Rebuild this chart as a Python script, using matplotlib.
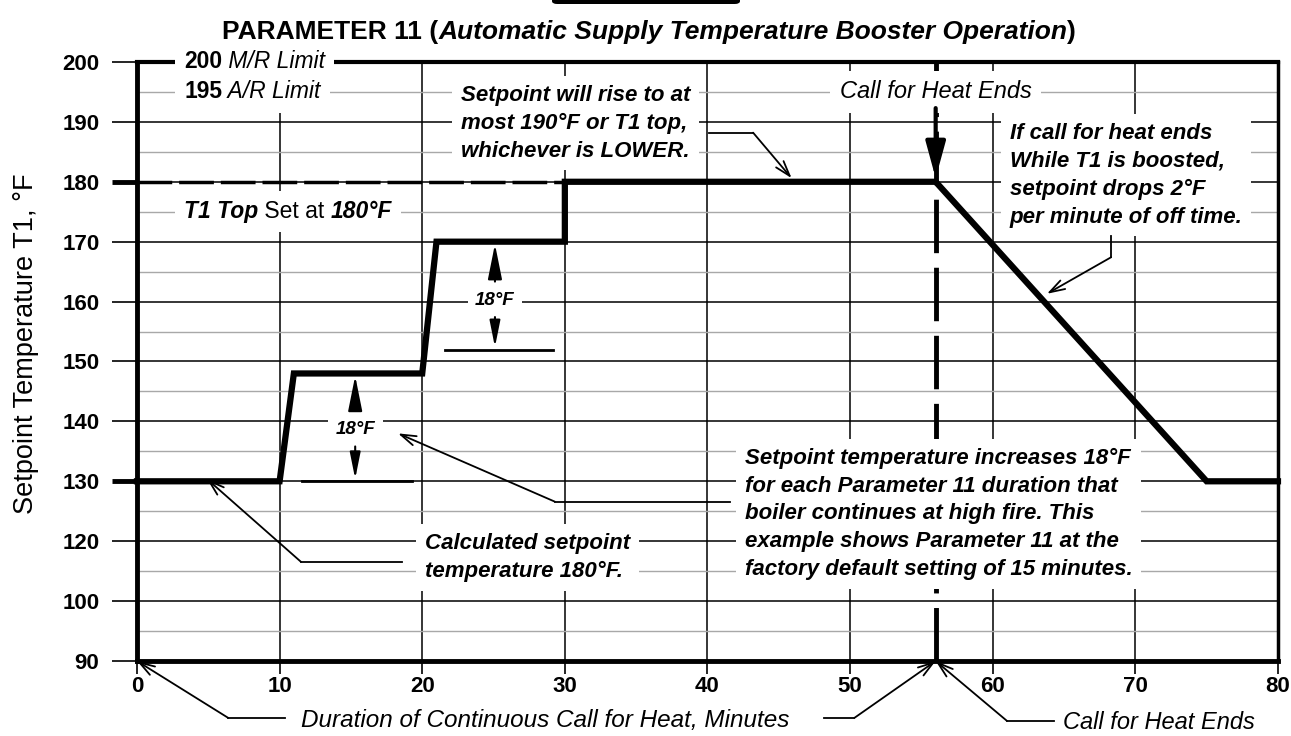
import matplotlib
matplotlib.use('Agg')
import matplotlib.pyplot as plt
import numpy as np
from matplotlib.patches import FancyBboxPatch

plt.rcParams['font.family'] = ['Liberation Sans', 'DejaVu Sans']

# y axis is drawn with even steps but 110 is skipped
y_ticks = [90, 100, 120, 130, 140, 150, 160, 170, 180, 190, 200]
y_minor = [95, 110, 125, 135, 145, 155, 165, 175, 185, 195]
x_ticks = [0, 10, 20, 30, 40, 50, 60, 70, 80]

# setpoint curve (minutes, deg F)
minutes = [0, 10, 11, 20, 21, 30, 30, 56, 75, 80]
setpoint = [130, 130, 148, 148, 170, 170, 180, 180, 130, 130]

t1_top = 180
t1_top_end = 30
call_end = 56

ypos = np.arange(len(y_ticks))


def fwd(v):
    return np.interp(v, y_ticks, ypos)


def inv(p):
    return np.interp(p, ypos, y_ticks)


fig = plt.figure(figsize=(12.91, 7.36), dpi=100)
ax = fig.add_axes([0.1061, 0.1019, 0.8838, 0.8139])
ax.set_yscale('function', functions=(fwd, inv))
ax.set_xlim(0, 80)
ax.set_ylim(90, 200)
ax.set_yticks(y_ticks)
ax.set_yticklabels([str(v) for v in y_ticks], fontweight='bold')
ax.set_yticks(y_minor, minor=True)
ax.set_xticks(x_ticks)
ax.set_xticklabels([str(v) for v in x_ticks], fontweight='bold')
ax.tick_params(axis='y', which='major', length=18, width=1.2, pad=9, labelsize=16)
ax.tick_params(axis='y', which='minor', length=0)
ax.tick_params(axis='x', length=9, width=1.2, pad=2, labelsize=16)

ax.grid(which='major', color='black', lw=1.1)
ax.grid(which='minor', axis='y', color='#a8a8a8', lw=1.0)
ax.set_axisbelow(True)

for side, w in [('left', 3.5), ('bottom', 3.5), ('top', 3.0), ('right', 2.5)]:
    ax.spines[side].set_linewidth(w)

for t, v in zip(ax.yaxis.get_major_ticks(), y_ticks):
    if v in (130, t1_top):
        t.tick1line.set_markeredgewidth(3.5)

# curve and dashed guides
ax.plot(minutes, setpoint, color='black', lw=4.5, solid_joinstyle='miter', zorder=5, clip_on=False)
ax.plot([0, t1_top_end], [t1_top, t1_top], color='black', lw=2.5, dashes=(10, 2), zorder=2)
ax.plot([call_end, call_end], [90, 200], color='black', lw=3.5, dashes=(11, 3), zorder=2)

box = dict(boxstyle='square,pad=0.4', fc='white', ec='none')
note_kw = dict(fontsize=16, fontstyle='italic', fontweight='bold', linespacing=1.43, bbox=box)


def rich(x, y, parts, size=16.5):
    # white boxes first, then the black text on top so pieces don't cover each other
    for color, bb, z in [('white', box, 3), ('black', None, 3.5)]:
        s, style = parts[0]
        t = ax.text(x, y, s, fontsize=size, color=color, bbox=bb, zorder=z,
                    va='center', ha='left', **style)
        for s, style in parts[1:]:
            t = ax.annotate(s, xy=(1, 0), xycoords=t, va='bottom', ha='left',
                            fontsize=size, color=color, bbox=bb, zorder=z, **style)


def leader(pts, tip, trans=None, tipcoords='data'):
    xs, ys = zip(*pts)
    kw = {} if trans is None else {'transform': trans}
    ax.plot(xs, ys, color='black', lw=1.3, clip_on=False, zorder=4, **kw)
    ax.annotate('', xy=tip, xycoords=tipcoords, xytext=pts[-1],
                textcoords='data' if trans is None else ('data', 'axes fraction'),
                arrowprops=dict(arrowstyle='->,head_length=1.1,head_width=0.35', lw=1.3,
                                color='black', shrinkA=0, shrinkB=0),
                annotation_clip=False, zorder=4)


bold = dict(fontweight='bold')
ital = dict(fontstyle='italic')
bold_ital = dict(fontweight='bold', fontstyle='italic')

# limit labels on the left
rich(3.3, 200, [('200', bold), (' M/R Limit', ital)])
rich(3.3, 195, [('195', bold), (' A/R Limit', ital)])
rich(3.3, 175, [('T1 Top', bold_ital), (' Set at ', {}), ('180°F', bold_ital)])

# notes
ax.text(22.7, 189.8, 'Setpoint will rise to at\nmost 190°F or T1 top,\nwhichever is LOWER.',
        ha='left', va='center', **note_kw)
leader([(40.1, 188.2), (43.2, 188.2)], (45.9, 180.6))

ax.text(call_end, 195, 'Call for Heat Ends', ha='center', va='center', fontsize=17,
        fontstyle='italic', bbox=box)
ax.annotate('', xy=(call_end, 180.6), xytext=(call_end, 192.3),
            arrowprops=dict(arrowstyle='-|>,head_length=2.2,head_width=0.6', lw=3,
                            color='black', shrinkA=0, shrinkB=0), zorder=6)

ax.text(61.2, 181.1, 'If call for heat ends\nWhile T1 is boosted,\nsetpoint drops 2°F\nper minute of off time.',
        ha='left', va='center', **note_kw)
leader([(68.3, 171), (68.3, 167.4)], (63.8, 161.3))

ax.text(42.6, 124.55, 'Setpoint temperature increases 18°F\nfor each Parameter 11 duration that\n'
        'boiler continues at high fire. This\nexample shows Parameter 11 at the\n'
        'factory default setting of 15 minutes.', ha='left', va='center', **note_kw)

ax.text(20.2, 114.6, 'Calculated setpoint\ntemperature 180°F.', ha='left', va='center', **note_kw)
leader([(18.6, 113.1), (11.5, 113.1)], (4.9, 130.4))

# 18 F steps
arrow18 = dict(arrowstyle='-|>,head_length=1.6,head_width=0.32', lw=1.5, color='black', shrinkB=0)
for x, lab_y, lo, hi, x0, x1 in [(15.3, 138.6, 130, 148, 11.6, 19.3),
                                  (25.1, 160.2, 152, 170, 21.6, 29.2)]:
    ax.annotate('18°F', xy=(x, hi - 0.4), xytext=(x, lab_y), ha='center', va='center',
                fontsize=13.5, fontweight='bold', fontstyle='italic', bbox=box,
                arrowprops=dict(shrinkA=2, **arrow18))
    ax.annotate('', xy=(x, lo + 0.4), xytext=(x, lab_y),
                arrowprops=dict(shrinkA=12, **arrow18))
    ax.plot([x0, x1], [lo, lo], color='black', lw=2, zorder=3)

leader([(41.6, 126.6), (29.3, 126.6)], (18.3, 138.0))

# below the axis
xt = ax.get_xaxis_transform()
ax.text(28.6, -0.0985, 'Duration of Continuous Call for Heat, Minutes', transform=xt,
        ha='center', va='center', fontsize=17.5, fontstyle='italic')
leader([(10.4, -0.095), (6.4, -0.095)], (0, 0), trans=xt, tipcoords='axes fraction')
leader([(48.2, -0.095), (50.3, -0.095)], (call_end, 0), trans=xt, tipcoords=('data', 'axes fraction'))
ax.text(64.9, -0.102, 'Call for Heat Ends', transform=xt, ha='left', va='center',
        fontsize=17, fontstyle='italic')
leader([(64.3, -0.1), (61.0, -0.1)], (call_end, 0), trans=xt, tipcoords=('data', 'axes fraction'))

# title and axis label
t = fig.text(0.172, 0.94, 'PARAMETER 11 (', fontsize=19, fontweight='bold', va='bottom', ha='left')
for s, style in [('Automatic Supply Temperature Booster Operation', 'italic'), (')', 'normal')]:
    t = ax.annotate(s, xy=(1, 0), xycoords=t, va='bottom', ha='left', fontsize=19,
                    fontweight='bold', fontstyle=style, annotation_clip=False)

fig.text(26 / 1291, 1 - 344 / 736, 'Setpoint Temperature T1, °F', rotation=90,
         ha='center', va='center', fontsize=19.5)

fig.patches.append(FancyBboxPatch((552 / 1291, 1 - 4 / 736), 188 / 1291, 8 / 736,
                                  boxstyle='round,pad=0,rounding_size=0.004',
                                  transform=fig.transFigure, fc='black', ec='none'))

fig.savefig('out.png', dpi=100)
